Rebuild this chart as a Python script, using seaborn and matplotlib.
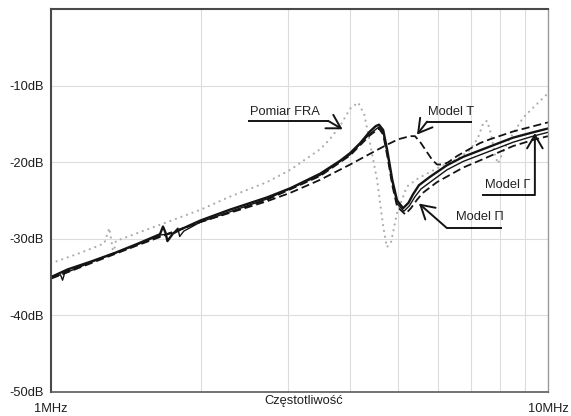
import matplotlib
matplotlib.use("Agg")
import matplotlib.pyplot as plt
import pandas as pd
import seaborn as sns

# Frequency in MHz, transfer level in dB
fra_f = [1.00, 1.15, 1.28, 1.31, 1.325, 1.335, 1.35, 1.50, 1.70, 2.00, 2.29, 2.72, 3.03, 3.48,
         3.64, 3.82, 4.00, 4.15, 4.27, 4.38, 4.53, 4.66, 4.74, 4.83, 4.97, 5.20, 5.45, 5.98,
         6.56, 6.97, 7.23, 7.42, 7.54, 7.67, 7.82, 7.93, 8.10, 8.32, 8.58, 8.91, 9.33, 10.0]
fra_db = [-33.2, -31.8, -30.6, -28.6, -30.5, -32.0, -30.3, -29.2, -27.9, -26.2, -24.5, -22.6, -21.0, -18.3,
          -17.0, -15.2, -13.0, -12.2, -13.8, -17.4, -22.3, -28.4, -31.1, -30.5, -26.6, -23.2, -22.2, -20.8,
          -19.6, -18.4, -16.8, -14.8, -14.6, -16.2, -19.0, -20.2, -18.8, -17.2, -15.9, -14.2, -12.9, -11.0]

model_t_f = [1.00, 1.50, 2.00, 2.72, 3.03, 3.48, 4.00, 4.50, 4.75, 5.00, 5.28, 5.40, 5.55, 5.71,
             5.85, 5.98, 6.15, 6.30, 6.56, 7.30, 7.65, 8.50, 9.60, 10.0]
model_t_db = [-35.0, -30.7, -27.8, -25.1, -24.0, -22.3, -20.3, -18.5, -17.7, -17.0, -16.6, -16.6, -17.5, -18.7,
              -19.7, -20.3, -20.3, -20.0, -19.2, -17.5, -17.0, -16.0, -15.1, -14.8]

model_t2_f = [1.00, 1.50, 2.00, 2.72, 3.48, 4.00, 4.38, 4.57, 4.66, 4.75, 4.86, 4.97, 5.16, 5.30,
              5.45, 5.60, 5.98, 6.75, 7.40, 8.50, 9.33, 10.0]
model_t2_db = [-35.2, -30.8, -27.8, -24.9, -21.8, -19.1, -16.5, -15.6, -16.4, -19.2, -23.0, -25.8, -26.8, -26.0,
               -24.9, -24.0, -22.6, -20.7, -19.6, -17.9, -17.1, -16.6]

model_pi_f = [1.00, 1.08, 1.20, 1.35, 1.50, 1.657, 1.680, 1.700, 1.715, 1.76, 1.82, 2.00, 2.29, 2.72,
              3.03, 3.48, 3.82, 4.00, 4.19, 4.38, 4.50, 4.57, 4.66, 4.75, 4.86, 4.97, 5.11, 5.24,
              5.35, 5.50, 5.79, 6.26, 6.75, 7.40, 8.50, 9.33, 10.0]
model_pi_db = [-35.0, -34.0, -33.0, -31.8, -30.6, -29.4, -28.4, -29.2, -30.3, -29.3, -28.8, -27.6, -26.2, -24.6,
               -23.4, -21.5, -19.8, -18.8, -17.5, -16.0, -15.3, -15.1, -15.8, -18.5, -22.3, -25.0, -26.0, -25.3,
               -24.2, -23.0, -21.9, -20.4, -19.3, -18.3, -16.8, -16.1, -15.6]

model_gamma_f = [1.00, 1.045, 1.055, 1.065, 1.20, 1.50, 1.66, 1.76, 1.80, 1.815, 1.85, 2.00, 2.72, 3.48,
                 4.00, 4.38, 4.57, 4.66, 4.75, 4.86, 4.97, 5.13, 5.26, 5.40, 5.55, 5.85, 6.26, 6.75,
                 7.40, 8.50, 9.33, 10.0]
model_gamma_db = [-35.1, -34.7, -35.4, -34.5, -33.1, -30.7, -29.5, -29.3, -28.6, -29.7, -29.0, -27.8, -24.8, -21.7,
                  -19.0, -16.3, -15.4, -16.1, -18.8, -22.6, -25.4, -26.4, -25.7, -24.5, -23.5, -22.4, -21.0, -19.9,
                  -18.9, -17.4, -16.6, -16.1]

y_ticks = [-50, -40, -30, -20, -10]
y_tick_labels = ["-50dB", "-40dB", "-30dB", "-20dB", "-10dB"]
x_ticks = [1, 10]
x_tick_labels = ["1MHz", "10MHz"]
x_minor = [2, 3, 4, 5, 6, 7, 8, 9]
x_label = "Częstotliwość"

sns.set_style("white")
plt.rcParams["font.family"] = ["Liberation Sans", "DejaVu Sans"]
plt.rcParams["font.size"] = 9.3

fig = plt.figure(figsize=(5.71, 4.16), dpi=100)
ax = fig.add_axes([51 / 571, 24 / 416, 497 / 571, 383 / 416])
ax.set_xscale("log")

ink = "#141414"

def curve(f, db, **kw):
    df = pd.DataFrame({"f": f, "db": db})
    sns.lineplot(data=df, x="f", y="db", ax=ax, sort=False, estimator=None, **kw)

curve(fra_f, fra_db, color="#adadad", linewidth=1.6, linestyle=(0, (0.05, 2.6)),
      dash_capstyle="round")
curve(model_t_f, model_t_db, color=ink, linewidth=1.3, linestyle=(0, (4.5, 2.2)))
curve(model_t2_f, model_t2_db, color=ink, linewidth=1.3, linestyle=(0, (4.5, 2.2)))
curve(model_gamma_f, model_gamma_db, color=ink, linewidth=1.0)
curve(model_pi_f, model_pi_db, color=ink, linewidth=1.7)

ax.set_xlim(1, 10)
ax.set_ylim(-50, 0)
ax.set_xticks(x_ticks)
ax.set_xticklabels(x_tick_labels)
ax.set_xticks(x_minor, minor=True)
ax.set_xticklabels([], minor=True)
ax.set_yticks(y_ticks)
ax.set_yticklabels(y_tick_labels)
ax.tick_params(axis="both", which="both", length=0, colors="#1e1e1e")
ax.tick_params(axis="x", pad=8)
ax.tick_params(axis="y", pad=5)
ax.grid(True, which="both", color="#dcdcdc", linewidth=0.8)
ax.set_axisbelow(True)
ax.set_xlabel("")
ax.set_ylabel("")
ax.text(0.509, -0.024, x_label, transform=ax.transAxes, ha="center", va="center",
        color="#1e1e1e")

for side, col, lw in [("top", "#4a4a4a", 1.5), ("left", "#4a4a4a", 1.5),
                      ("bottom", "#5a5a5a", 1.2), ("right", "#9a9a9a", 1.0)]:
    ax.spines[side].set_color(col)
    ax.spines[side].set_linewidth(lw)
    ax.spines[side].set_visible(True)

arrow = dict(arrowstyle="->,head_length=0.6,head_width=0.35", lw=1.4, color=ink,
             shrinkA=0, shrinkB=0, mutation_scale=16)

def callout(text, text_xy, line_x, line_y, start_x, tip):
    ax.text(*text_xy, text, ha="center", va="center", color="#222222")
    ax.plot(line_x, [line_y, line_y], color=ink, linewidth=1.4, solid_capstyle="butt")
    ax.annotate("", xy=tip, xytext=(start_x, line_y), arrowprops=arrow)

callout("Pomiar FRA", (2.95, -13.4), [2.49, 3.61], -14.6, 3.61, (3.86, -15.7))
callout("Model T", (6.38, -13.4), [5.71, 7.03], -14.7, 5.71, (5.45, -16.4))
callout("Model Γ", (8.31, -23.0), [7.37, 9.41], -24.3, 9.41, (9.41, -16.2))
callout("Model Π", (7.28, -27.1), [6.26, 8.08], -28.6, 6.26, (5.50, -25.4))

fig.savefig("out.png", dpi=100)
